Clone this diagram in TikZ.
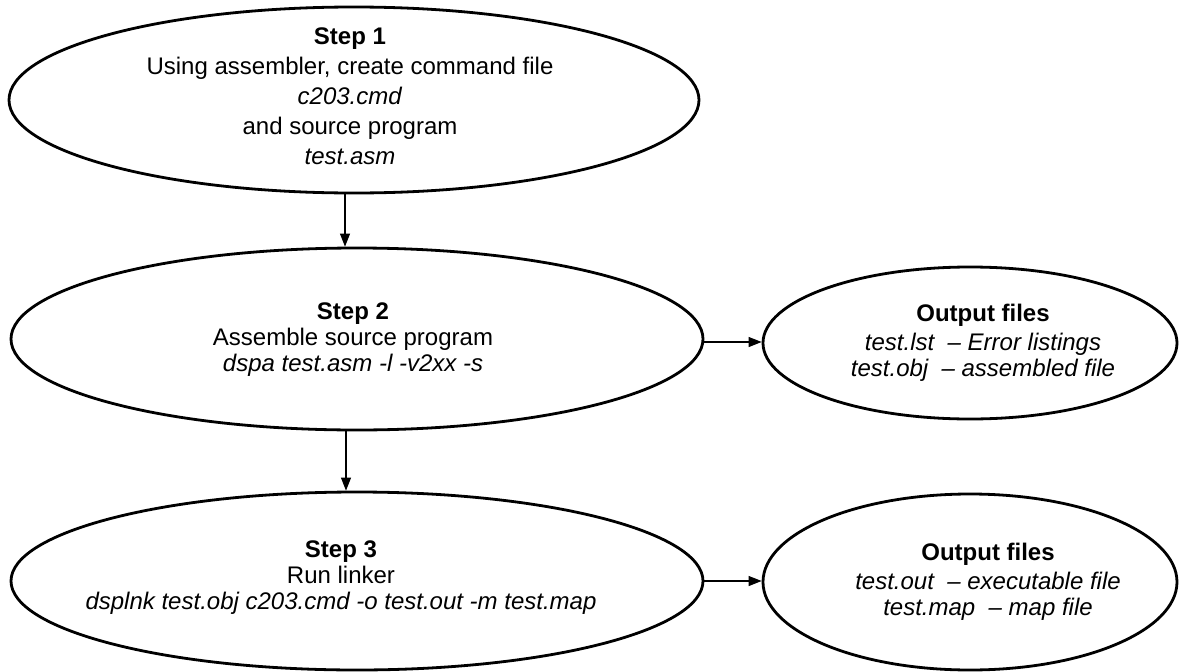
\documentclass[tikz,border=0pt]{standalone}
\usepackage{fontspec}
\setmainfont{Liberation Sans}
\usetikzlibrary{shapes.geometric,arrows.meta}
\begin{document}
\begin{tikzpicture}[x=1pt,y=-1pt,
  oval/.style={draw, ellipse, line width=2.8pt, inner sep=0pt},
  txt/.style={align=center, font=\fontsize{24}{26}\selectfont, inner sep=0pt},
  arr/.style={line width=1.1pt, -{Triangle[length=13pt,width=10pt]}}]
\useasboundingbox (0,0) rectangle (1179,672);
% ellipses
\node[oval, minimum width=690pt, minimum height=186pt] (e1) at (354,100) {};
\node[oval, minimum width=692pt, minimum height=182pt] (e2) at (357,339) {};
\node[oval, minimum width=692pt, minimum height=178pt] (e3) at (357,581) {};
\node[oval, minimum width=414pt, minimum height=152pt] (r2) at (970,343) {};
\node[oval, minimum width=414pt, minimum height=176pt] (r3) at (970,582) {};
% texts
\node[txt, font=\fontsize{24}{30}\selectfont] (t1) at (350,96)
  {\textbf{Step 1}\\Using assembler, create command file\\\textit{c203.cmd}\\and source program\\\textit{test.asm}};
\node[txt] (t2) at (353,340)
  {\textbf{Step 2}\\Assemble source program\\\textit{dspa test.asm -l -v2xx -s}};
\node[txt] (t3) at (341,578)
  {\textbf{Step 3}\\Run linker\\\textit{dsplnk test.obj c203.cmd -o test.out -m test.map}};
\node[txt] (o2) at (983,343)
  {\textbf{Output files}\\[3pt]\textit{test.lst\ \ -- Error listings}\\\textit{test.obj\ \ -- assembled file}};
\node[txt] (o3) at (988,582)
  {\textbf{Output files}\\[3pt]\textit{test.out\ \ -- executable file}\\\textit{test.map\ \ -- map file}};
% connectors
\draw[arr] ([xshift=-9pt]e1.south) -- ([xshift=-9pt]e1.south |- e2.north);
\draw[arr] ([xshift=-11pt]e2.south) -- ([xshift=-11pt]e2.south |- e3.north);
\draw[arr] ([yshift=-3pt]e2.east) -- ([yshift=-3pt]e2.east -| r2.west);
\draw[arr] (e3.east) -- (e3.east -| r3.west);
\end{tikzpicture}
\end{document}
